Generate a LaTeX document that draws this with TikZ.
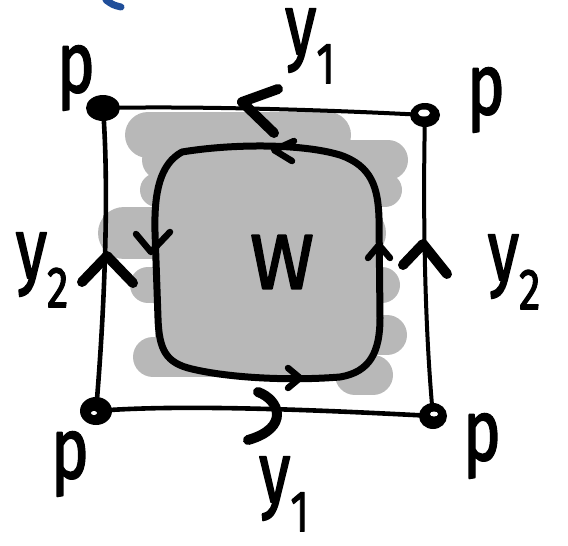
\documentclass[tikz,border=0pt]{standalone}
\usepackage{fontspec}
\usepackage{graphicx}
\setmainfont{Fira Sans}[FakeBold=2.2]
\definecolor{shadegray}{HTML}{B8B8B8}
\definecolor{inkblue}{HTML}{1F4E9A}
\newcommand{\nar}[1]{\scalebox{0.74}[1]{#1}}
\newcommand{\sub}[1]{\raisebox{-0.34em}{\fontsize{58}{60}\selectfont\nar{#1}}}
\begin{document}
\begin{tikzpicture}[x=1pt,y=-1pt,line cap=round,line join=round,
  lbl/.style={inner sep=0pt,font=\fontsize{86}{90}\selectfont},
  side/.style={line width=4pt},
  cycle/.style={line width=7pt},
  chev/.style={line width=10pt},
  smallchev/.style={line width=6.5pt},
  shade/.style={line width=40pt,draw=shadegray}]
\useasboundingbox (0,0) rectangle (568,546);

% pencil mark at the top edge
\draw[inkblue,line width=7pt] (106,0) .. controls (113,5) .. (121,7);

% grey scribble shading
\path[fill=shadegray] (182,152) .. controls (230,144) and (300,143) .. (340,155)
  .. controls (372,166) and (378,188) .. (379,218) -- (380,318)
  .. controls (380,352) and (370,372) .. (340,377)
  .. controls (290,381) and (230,378) .. (192,369)
  .. controls (166,363) and (159,350) .. (158,318) -- (155,232)
  .. controls (154,192) and (160,164) .. (182,152);
\draw[shade,line width=46pt] (148,135) -- (328,135);
\draw[shade] (162,160) -- (388,160);
\draw[shade,line width=34pt] (157,190) -- (385,190);
\draw[shade,line width=52pt] (124,233) -- (360,233);
\draw[shade,line width=36pt] (148,285) -- (382,285);
\draw[shade] (175,335) -- (387,335);
\draw[shade] (153,357) -- (300,357);
\draw[shade] (355,375) -- (373,375);

% corners
\coordinate (tl) at (103,108);
\coordinate (tr) at (425,115);
\coordinate (bl) at (96,411);
\coordinate (br) at (433,416);

% sides of the square
\draw[side] (tl) .. controls (200,106) and (330,110) .. (tr);
\draw[side] (tr) .. controls (423,200) and (424,320) .. (br);
\draw[side,line width=4.6pt] (bl) .. controls (180,404) and (320,410) .. (br);
\draw[side,line width=4.6pt] (tl) .. controls (110,200) and (103,330) .. (bl);

% corner dots
\fill (tl) ellipse (17pt and 13pt);
\fill (bl) ellipse (16pt and 14pt);
\fill (tr) ellipse (15pt and 12pt);
\fill (br) ellipse (14pt and 13pt);
\fill[white] (424,113) ellipse (6pt and 3.5pt);
\fill[white] (434,414) ellipse (4pt and 2.5pt);
\fill[white] (94,413) ellipse (3pt and 2pt);

% loop round W
\draw[cycle] (182,152) .. controls (230,144) and (300,143) .. (340,155)
  .. controls (372,166) and (378,188) .. (379,218) -- (380,318)
  .. controls (380,352) and (370,372) .. (340,377)
  .. controls (290,381) and (230,378) .. (192,369)
  .. controls (166,363) and (159,350) .. (158,318) -- (155,232)
  .. controls (154,192) and (160,164) .. (182,152);

% arrows on the loop
\draw[smallchev] (294,141) -- (274,150) -- (292,161);
\draw[smallchev] (136,234) -- (151,252) -- (170,232);
\draw[smallchev] (288,368) -- (300,378) -- (288,388);
\draw[smallchev] (368,258) -- (379,245) -- (390,258);

% arrows on the sides
\draw[chev] (278,89) -- (242,102) -- (274,133);
\draw[chev] (82,282) -- (107,256) -- (133,283);
\draw[chev] (403,265) -- (423,244) -- (447,274);
\draw[chev] (258,392) .. controls (280,400) and (290,428) .. (248,440);

% labels
\node[lbl] (ptl) at (76,78) {\nar{p}};
\node[lbl] (ptr) at (486,100) {\nar{p}};
\node[lbl] (pbl) at (70,464) {\nar{p}};
\node[lbl] (pbr) at (482,446) {\nar{p}};
\node[lbl] (w) at (282,262) {\scalebox{0.9}[0.9]{W}};
\node[lbl] (ytop) at (310,46) {\nar{y}\sub{1}};
\node[lbl] (ybot) at (284,494) {\nar{y}\sub{1}};
\node[lbl] (yleft) at (42,270) {\nar{y}\sub{2}};
\node[lbl] (yright) at (514,272) {\nar{y}\sub{2}};
\end{tikzpicture}
\end{document}
